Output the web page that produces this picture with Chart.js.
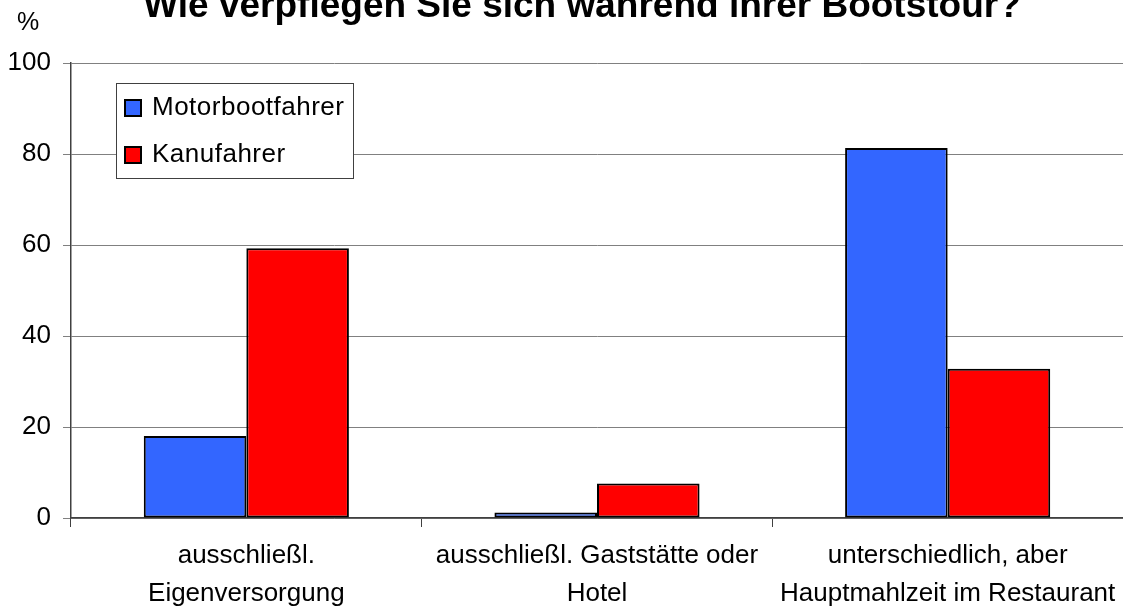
<!DOCTYPE html>
<html>
<head>
<meta charset="utf-8">
<script src="https://cdn.jsdelivr.net/npm/chart.js@4"></script>
<style>
  html, body { margin: 0; padding: 0; background: #fff; }
  #box { width: 1123px; height: 611px; position: relative; }
</style>
</head>
<body>
<div id="box"><canvas id="grafik"></canvas></div>
<script>
const titel = 'Wie verpflegen Sie sich während ihrer Bootstour?';
const kategorien = [
  ['ausschließl.', 'Eigenversorgung'],
  ['ausschließl. Gaststätte oder', 'Hotel'],
  ['unterschiedlich, aber', 'Hauptmahlzeit im Restaurant']
];
const motorboot = [18.0, 1.2, 81.3];
const kanu = [59.3, 7.6, 32.8];
const yTicks = [0, 20, 40, 60, 80, 100];

const fontName = '"Liberation Sans", Arial, sans-serif';

// Titel, Prozentzeichen und Legende selbst zeichnen
const extras = {
  id: 'extras',
  afterDraw(chart) {
    const c = chart.ctx;
    c.save();
    c.fillStyle = '#000';
    c.textAlign = 'center';
    c.textBaseline = 'alphabetic';
    c.font = 'bold 37px ' + fontName;
    c.fillText(titel, 582, 17);
    c.font = '25px ' + fontName;
    c.fillText('%', 28, 30);

    // Legende
    const lx = 116, ly = 83, lw = 237, lh = 95;
    c.fillStyle = '#fff';
    c.fillRect(lx, ly, lw, lh);
    c.strokeStyle = '#404040';
    c.lineWidth = 1;
    c.strokeRect(lx + 0.5, ly + 0.5, lw, lh);
    chart.data.datasets.forEach((ds, i) => {
      const cy = 108 + i * 47;
      c.fillStyle = ds.backgroundColor;
      c.fillRect(125, cy - 8, 16, 16);
      c.strokeStyle = '#000';
      c.lineWidth = 2;
      c.strokeRect(125, cy - 8, 16, 16);
      c.fillStyle = '#000';
      c.textAlign = 'left';
      c.textBaseline = 'middle';
      c.font = '26px ' + fontName;
      c.letterSpacing = '0.5px';
      c.fillText(ds.label, 152, cy);
    });
    c.restore();
  }
};

const ctx = document.getElementById('grafik').getContext('2d');

const chart = new Chart(ctx, {
  type: 'bar',
  data: {
    labels: kategorien,
    datasets: [{
      label: 'Motorbootfahrer',
      data: motorboot,
      backgroundColor: '#3366FF',
      borderColor: '#000',
      borderWidth: 2,
      borderSkipped: false
    }, {
      label: 'Kanufahrer',
      data: kanu,
      backgroundColor: '#FF0000',
      borderColor: '#000',
      borderWidth: 2,
      borderSkipped: false
    }]
  },
  options: {
    responsive: true,
    maintainAspectRatio: false,
    animation: false,
    barPercentage: 1,
    categoryPercentage: 0.585,
    layout: { padding: { top: 63, left: 0, right: 0, bottom: 0 } },
    plugins: {
      legend: { display: false },
      title: { display: false },
      tooltip: { enabled: false }
    },
    scales: {
      x: {
        offset: true,
        grid: {
          offset: true,
          drawOnChartArea: false,
          tickLength: 9,
          tickColor: '#404040'
        },
        border: { color: '#404040', width: 1.5 },
        ticks: {
          color: '#000',
          font: { family: fontName, size: 26, lineHeight: 1.46 },
          padding: 10,
          maxRotation: 0,
          autoSkip: false
        },
        afterFit(scale) {
          scale.height = 93;
          scale.paddingLeft = 0;
          scale.paddingRight = 0;
        }
      },
      y: {
        min: 0,
        max: 100,
        afterBuildTicks(scale) { scale.ticks = yTicks.map(v => ({ value: v })); },
        grid: {
          color: '#808080',
          tickLength: 8,
          tickColor: '#808080'
        },
        border: { color: '#404040', width: 1.5 },
        ticks: {
          color: '#000',
          font: { family: fontName, size: 26 },
          padding: 12
        },
        afterFit(scale) { scale.width = 71; }
      }
    }
  },
  plugins: [extras]
});
</script>
</body>
</html>
